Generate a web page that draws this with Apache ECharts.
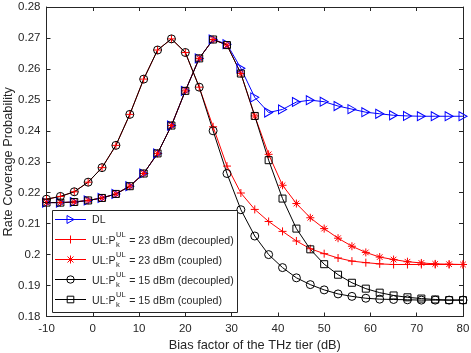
<!DOCTYPE html>
<html>
<head>
<meta charset="utf-8">
<script src="https://cdn.jsdelivr.net/npm/echarts@6/dist/echarts.min.js"></script>
<style>
  html, body { margin: 0; padding: 0; background: #fff; }
  #main { width: 471px; height: 353px; }
</style>
</head>
<body>
<div id="main"></div>
<script>
// bias factor of the THz tier (dB)
var biasDb = [-10, -7, -4, -1, 2, 5, 8, 11, 14, 17, 20, 23, 26, 29, 32, 35,
  38, 41, 44, 47, 50, 53, 56, 59, 62, 65, 68, 71, 74, 77, 80];

var dl = [0.2168, 0.2168, 0.2170, 0.2175, 0.2183, 0.2196, 0.2221, 0.2262,
  0.2327, 0.2417, 0.2529, 0.2634, 0.2695, 0.2680, 0.2602, 0.2508,
  0.2459, 0.2469, 0.2493, 0.2499, 0.2494, 0.2480, 0.2470, 0.2460,
  0.2455, 0.2450, 0.2448, 0.2447, 0.2447, 0.2447, 0.2447];

var ul23Decoupled = [0.2179, 0.2188, 0.2203, 0.2234, 0.2281, 0.2353, 0.2453, 0.2567,
  0.2661, 0.2697, 0.2653, 0.2541, 0.2413, 0.2286, 0.2199, 0.2146,
  0.2107, 0.2075, 0.2044, 0.2019, 0.2003, 0.1989, 0.1979, 0.1974,
  0.1970, 0.1968, 0.1968, 0.1968, 0.1968, 0.1968, 0.1968];

var ul23Coupled = [0.2168, 0.2168, 0.2170, 0.2175, 0.2183, 0.2196, 0.2221, 0.2262,
  0.2327, 0.2417, 0.2529, 0.2634, 0.2695, 0.2677, 0.2585, 0.2448,
  0.2324, 0.2224, 0.2165, 0.2119, 0.2084, 0.2053, 0.2027, 0.2007,
  0.1992, 0.1984, 0.1977, 0.1973, 0.1970, 0.1969, 0.1968];

var ul15Decoupled = [0.2179, 0.2188, 0.2203, 0.2234, 0.2281, 0.2353, 0.2453, 0.2567,
  0.2661, 0.2697, 0.2653, 0.2541, 0.2400, 0.2262, 0.2145, 0.2060,
  0.2000, 0.1958, 0.1925, 0.1903, 0.1886, 0.1873, 0.1865, 0.1859,
  0.1856, 0.1855, 0.1854, 0.1853, 0.1853, 0.1853, 0.1853];

var ul15Coupled = [0.2168, 0.2168, 0.2170, 0.2175, 0.2183, 0.2196, 0.2221, 0.2262,
  0.2327, 0.2417, 0.2529, 0.2634, 0.2695, 0.2677, 0.2585, 0.2448,
  0.2305, 0.2181, 0.2084, 0.2017, 0.1969, 0.1935, 0.1909, 0.1890,
  0.1877, 0.1868, 0.1862, 0.1858, 0.1855, 0.1853, 0.1853];

var legendRows = [
  { main: 'DL' },
  { main: 'UL:P', sup: 'UL', sub: 'k', rest: ' = 23 dBm (decoupled)' },
  { main: 'UL:P', sup: 'UL', sub: 'k', rest: ' = 23 dBm (coupled)' },
  { main: 'UL:P', sup: 'UL', sub: 'k', rest: ' = 15 dBm (decoupled)' },
  { main: 'UL:P', sup: 'UL', sub: 'k', rest: ' = 15 dBm (coupled)' }
];

var FAMILY = '"Liberation Sans", Arial, Helvetica, sans-serif';
var TXT = '#262626';
var BLUE = '#0000ff', RED = '#ff0000', BLACK = '#000000';

var TRI = 'path://M0,0L10,5L0,10Z';
var PLUS = 'path://M5,0L5,10M0,5L10,5';
var STAR = 'path://M5,0L5,10M0,5L10,5M1.5,1.5L8.5,8.5M1.5,8.5L8.5,1.5';

function pairs (ys) {
  return biasDb.map(function (x, i) { return [x, ys[i]]; });
}

function mkSeries (name, ys, color, symbol, size) {
  return {
    name: name,
    type: 'line',
    data: pairs(ys),
    symbol: symbol,
    symbolSize: size,
    showSymbol: true,
    lineStyle: { color: color, width: 1 },
    itemStyle: { color: 'none', borderColor: color, borderWidth: 1 },
    emphasis: { disabled: true }
  };
}

var ctx = document.createElement('canvas').getContext('2d');
function textW (t, size) {
  ctx.font = size + 'px ' + FAMILY;
  return ctx.measureText(t).width;
}

// legend drawn by hand so that P can carry the UL superscript and k subscript
function buildLegend () {
  var els = [];
  var box = { x: 52.5, y: 210.5, w: 185, h: 102 };
  els.push({ type: 'rect', z: 100, shape: { x: box.x, y: box.y, width: box.w, height: box.h },
    style: { fill: '#fff', stroke: TXT, lineWidth: 1 } });
  var colors = [BLUE, RED, RED, BLACK, BLACK];
  var fs = 10.6, fsSmall = 7.6;
  legendRows.forEach(function (row, i) {
    var y = 219.5 + i * 20;
    var c = colors[i];
    els.push({ type: 'line', z: 101, shape: { x1: 55, y1: y, x2: 86, y2: y },
      style: { stroke: c, lineWidth: 1 } });
    var mx = 70.5;
    if (i === 0) {
      els.push({ type: 'polygon', z: 102, shape: { points: [[mx - 3.5, y - 4], [mx + 3.5, y], [mx - 3.5, y + 4]] },
        style: { fill: 'none', stroke: c, lineWidth: 1 } });
    } else if (i === 1) {
      els.push({ type: 'polyline', z: 102, shape: { points: [[mx, y - 4], [mx, y + 4]] }, style: { stroke: c, lineWidth: 1, fill: 'none' } });
    } else if (i === 2) {
      [[0, -4, 0, 4], [-4, 0, 4, 0], [-3, -3, 3, 3], [-3, 3, 3, -3]].forEach(function (s) {
        els.push({ type: 'line', z: 102, shape: { x1: mx + s[0], y1: y + s[1], x2: mx + s[2], y2: y + s[3] },
          style: { stroke: c, lineWidth: 1 } });
      });
    } else if (i === 3) {
      els.push({ type: 'circle', z: 102, shape: { cx: mx, cy: y, r: 3.7 }, style: { fill: 'none', stroke: c, lineWidth: 1 } });
    } else {
      els.push({ type: 'rect', z: 102, shape: { x: mx - 3.3, y: y - 3.3, width: 6.6, height: 6.6 }, style: { fill: 'none', stroke: c, lineWidth: 1 } });
    }
    var tx = 92;
    if (!row.sup) {
      els.push({ type: 'text', z: 102, style: { text: row.main, x: tx, y: y + 0.5, fill: TXT,
        font: fs + 'px ' + FAMILY, verticalAlign: 'middle', align: 'left' } });
      return;
    }
    var w1 = textW(row.main, fs);
    var w2 = Math.max(textW(row.sup, fsSmall), textW(row.sub, fsSmall));
    els.push({ type: 'text', z: 102, style: { text: row.main, x: tx, y: y + 1.5, fill: TXT,
      font: fs + 'px ' + FAMILY, verticalAlign: 'middle', align: 'left' } });
    els.push({ type: 'text', z: 102, style: { text: row.sup, x: tx + w1 + 0.5, y: y - 5, fill: TXT,
      font: fsSmall + 'px ' + FAMILY, verticalAlign: 'middle', align: 'left' } });
    els.push({ type: 'text', z: 102, style: { text: row.sub, x: tx + w1 + 0.5, y: y + 5.5, fill: TXT,
      font: fsSmall + 'px ' + FAMILY, verticalAlign: 'middle', align: 'left' } });
    els.push({ type: 'text', z: 102, style: { text: row.rest, x: tx + w1 + w2 + 1, y: y + 1.5, fill: TXT,
      font: fs + 'px ' + FAMILY, verticalAlign: 'middle', align: 'left' } });
  });
  return els;
}

var myChart = echarts.init(document.getElementById('main'));

var axisLine = { show: true, onZero: false, lineStyle: { color: TXT, width: 1 } };
var tick = { show: true, inside: true, length: 4, lineStyle: { color: TXT, width: 1 } };
var label = { color: TXT, fontSize: 11.5, fontFamily: FAMILY };

var option = {
  animation: false,
  backgroundColor: '#fff',
  grid: { left: 46.5, right: 8, top: 7, bottom: 36.5, containLabel: false, outerBoundsMode: 'none' },
  xAxis: [{
    type: 'value', min: -10, max: 80, interval: 10, position: 'bottom',
    axisLine: axisLine, axisTick: tick, splitLine: { show: false },
    axisLabel: Object.assign({ margin: 6 }, label),
    name: 'Bias factor of the THz tier (dB)', nameLocation: 'middle', nameGap: 22,
    nameMoveOverlap: false,
    nameTextStyle: { color: TXT, fontSize: 12.8, fontFamily: FAMILY }
  }, {
    type: 'value', min: -10, max: 80, interval: 10, position: 'top',
    axisLine: axisLine, axisTick: tick, splitLine: { show: false }, axisLabel: { show: false }
  }],
  yAxis: [{
    type: 'value', min: 0.18, max: 0.28, interval: 0.01, position: 'left',
    axisLine: axisLine, axisTick: tick, splitLine: { show: false },
    axisLabel: Object.assign({ margin: 6 }, label),
    name: 'Rate Coverage Probability', nameLocation: 'middle', nameGap: 32,
    nameMoveOverlap: false,
    nameTextStyle: { color: TXT, fontSize: 12.8, fontFamily: FAMILY }
  }, {
    type: 'value', min: 0.18, max: 0.28, interval: 0.01, position: 'right',
    axisLine: axisLine, axisTick: tick, splitLine: { show: false }, axisLabel: { show: false }
  }],
  series: [
    mkSeries('DL', dl, BLUE, TRI, [8, 9]),
    mkSeries('23 decoupled', ul23Decoupled, RED, PLUS, 8),
    mkSeries('23 coupled', ul23Coupled, RED, STAR, 8),
    mkSeries('15 decoupled', ul15Decoupled, BLACK, 'circle', 8),
    mkSeries('15 coupled', ul15Coupled, BLACK, 'rect', 7)
  ],
  graphic: buildLegend()
};

myChart.setOption(option);
</script>
</body>
</html>
